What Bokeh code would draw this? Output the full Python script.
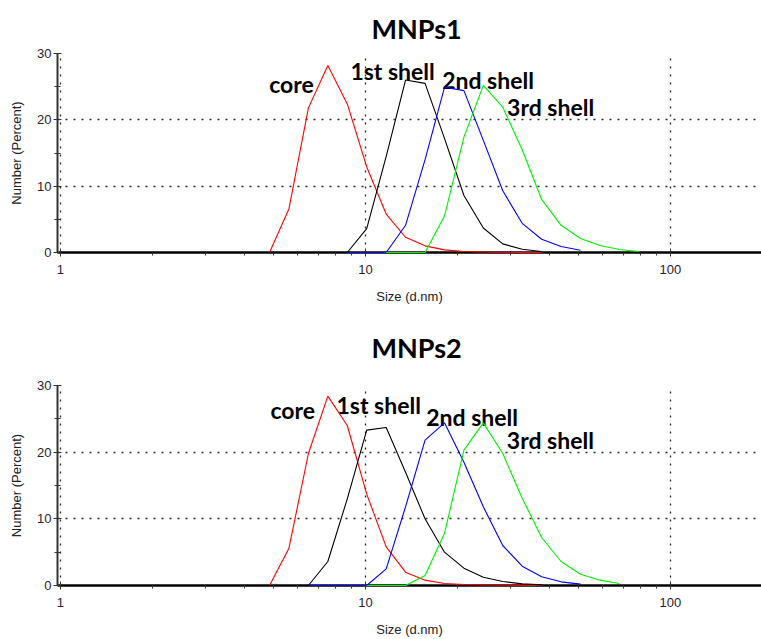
from bokeh.plotting import figure
from bokeh.layouts import column
from bokeh.models import Range1d, FixedTicker, BasicTickFormatter, Label
from bokeh.embed import file_html
from bokeh.resources import INLINE

# Zetasizer size bins (d.nm)
SIZE_NM = [4.849, 5.615, 6.503, 7.531, 8.721, 10.10, 11.70, 13.54, 15.69, 18.17,
           21.04, 24.36, 28.21, 32.67, 37.84, 43.82, 50.75, 58.77, 68.06, 78.82, 91.28]

# MNPs1 (number %), each series starts at the given bin
M1_CORE_START = 4.849
M1_CORE = [0, 6.6, 21.8, 28.2, 22.4, 12.9, 5.8, 2.3, 1.0, 0.4, 0.15, 0.08, 0.04, 0.02, 0.0]
M1_SHELL1_START = 8.721
M1_SHELL1 = [0, 3.6, 14.5, 26.0, 25.5, 17.2, 8.6, 3.7, 1.3, 0.5, 0.15]
M1_SHELL2_START = 8.721
M1_SHELL2 = [0, 0, 0, 4.1, 14.0, 24.9, 24.4, 16.9, 9.3, 4.4, 2.0, 0.9, 0.35]
M1_SHELL3_START = 11.70
M1_SHELL3 = [0, 0, 0, 5.5, 17.4, 25.2, 21.9, 15.5, 8.0, 4.1, 2.1, 1.05, 0.45, 0.15]

# MNPs2
M2_CORE_START = 4.849
M2_CORE = [0, 5.6, 19.8, 28.4, 24.0, 13.7, 5.8, 2.0, 0.8, 0.3, 0.15, 0.08, 0.04, 0.02, 0.01]
M2_SHELL1_START = 6.503
M2_SHELL1 = [0, 3.6, 13.0, 23.3, 23.7, 17.0, 10.0, 5.0, 2.6, 1.25, 0.6, 0.25, 0.1]
M2_SHELL2_START = 6.503
M2_SHELL2 = [0, 0, 0, 0, 2.5, 11.8, 21.8, 24.4, 18.5, 11.8, 6.0, 2.9, 1.3, 0.55, 0.2]
M2_SHELL3_START = 10.10
M2_SHELL3 = [0, 0, 0, 1.5, 7.8, 20.3, 24.4, 19.8, 13.1, 7.2, 3.6, 1.7, 0.8, 0.3]

SERIES_NAMES = ["core", "1st shell", "2nd shell", "3rd shell"]
SERIES_COLORS = ["#ff0000", "#000000", "#0000ff", "#00ee00"]

# label anchor points (size, percent)
M1_LABEL_X = [4.835, 8.93, 17.85, 29.15]
M1_LABEL_Y = [25.4, 27.4, 26.0, 22.0]
M2_LABEL_X = [4.883, 8.04, 15.83, 29.1]
M2_LABEL_Y = [26.4, 27.1, 25.3, 21.9]

X_TICKS = [1, 10, 100]
X_MINOR = [m * d for d in (1, 10, 100) for m in range(2, 10)]
Y_TICKS = [0, 10, 20, 30]
Y_MINOR = [5, 15, 25]


def sizes_from(start, n):
    i = SIZE_NM.index(start)
    return SIZE_NM[i:i + n]


def make(title, series, lab_x, lab_y, height, top, bottom, standoff):
    p = figure(width=761, height=height, x_axis_type="log",
               x_range=Range1d(0.978, 199), y_range=Range1d(0, 30),
               output_backend="svg", toolbar_location=None,
               min_border_left=57, min_border_right=0,
               min_border_top=top, min_border_bottom=bottom)
    p.outline_line_color = None
    p.title.text = title
    p.title.align = "left"
    p.title.offset = 314
    p.title.text_font = "Lato"
    p.title.text_font_size = "27px"
    p.title.text_font_style = "bold"
    p.title.text_color = "#000000"
    p.title.standoff = standoff

    for ax in (p.xaxis[0], p.yaxis[0]):
        ax.major_label_text_font = "Liberation Sans"
        ax.major_label_text_font_size = "13px"
        ax.major_label_text_color = "#2a2030"
        ax.axis_label_text_font = "Liberation Sans"
        ax.axis_label_text_font_size = "13px"
        ax.axis_label_text_font_style = "normal"
        ax.axis_label_text_color = "#222222"

    xa = p.xaxis[0]
    xa.ticker = FixedTicker(ticks=X_TICKS, minor_ticks=X_MINOR)
    xa.formatter = BasicTickFormatter()
    xa.axis_line_color = "black"
    xa.axis_line_width = 2.5
    xa.major_tick_in = 4
    xa.major_tick_out = 4
    xa.minor_tick_in = 0
    xa.minor_tick_out = 3
    xa.major_tick_line_color = "#333333"
    xa.minor_tick_line_color = "#333333"
    xa.major_label_standoff = 8
    xa.axis_label = "Size (d.nm)"
    xa.axis_label_standoff = 12

    ya = p.yaxis[0]
    ya.ticker = FixedTicker(ticks=Y_TICKS, minor_ticks=Y_MINOR)
    ya.axis_line_color = "#333333"
    ya.axis_line_width = 2
    ya.major_tick_in = 4
    ya.major_tick_out = 4
    ya.minor_tick_in = 3
    ya.minor_tick_out = 3
    ya.major_tick_line_color = "#333333"
    ya.minor_tick_line_color = "#333333"
    ya.major_label_standoff = 2
    ya.axis_label = "Number (Percent)"
    ya.axis_label_standoff = 10

    for g in (p.xgrid[0], p.ygrid[0]):
        g.grid_line_color = "#000000"
        g.grid_line_dash = "2 6"
        g.grid_line_width = 1.3
        g.grid_line_alpha = 0.85

    for (start, vals), color in zip(series, SERIES_COLORS):
        p.line(sizes_from(start, len(vals)), vals, line_color=color,
               line_width=1.1, level="overlay")

    for name, x, y in zip(SERIES_NAMES, lab_x, lab_y):
        p.add_layout(Label(x=x, y=y, text=name, text_font="Lato",
                           text_font_size="23px", text_font_style="bold",
                           text_color="#000000", text_baseline="alphabetic",
                           text_align="left"))
    return p


p1 = make("MNPs1",
          [(M1_CORE_START, M1_CORE), (M1_SHELL1_START, M1_SHELL1),
           (M1_SHELL2_START, M1_SHELL2), (M1_SHELL3_START, M1_SHELL3)],
          M1_LABEL_X, M1_LABEL_Y, 306, 53, 54, 17)
p2 = make("MNPs2",
          [(M2_CORE_START, M2_CORE), (M2_SHELL1_START, M2_SHELL1),
           (M2_SHELL2_START, M2_SHELL2), (M2_SHELL3_START, M2_SHELL3)],
          M2_LABEL_X, M2_LABEL_Y, 333, 79, 54, 43)

layout = column(p1, p2, spacing=0)
open("out.html", "w").write(file_html(layout, INLINE))
